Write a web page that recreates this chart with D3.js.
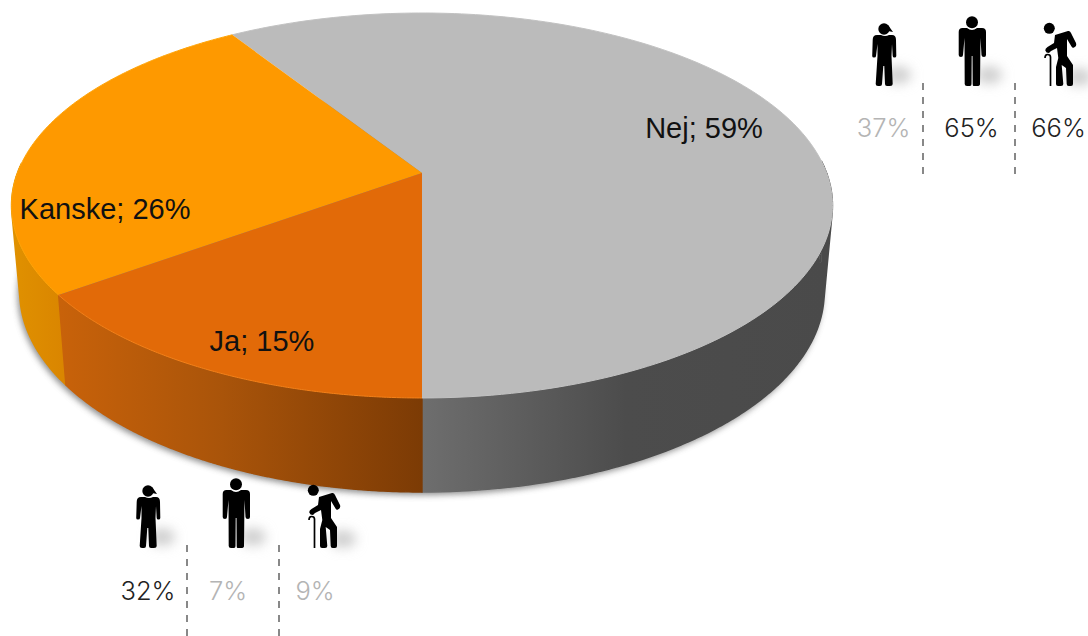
<!DOCTYPE html>
<html><head><meta charset="utf-8">
<script src="https://cdn.jsdelivr.net/npm/d3@7"></script>
<style>html,body{margin:0;padding:0;background:#fff}svg{display:block}</style></head>
<body><svg id="c" width="1088" height="636"></svg>
<script>
const categories=["Nej","Kanske","Ja"];
const values=[59,26,15];
const iconKinds=["child","man","elder"];
const nejShares=[37,65,66];
const nejHighlighted=[false,true,true];
const jaShares=[32,7,9];
const jaHighlighted=[true,false,false];

const svg=d3.select("#c"), defs=svg.append("defs");
const FONT="'Liberation Sans',Arial,sans-serif", LIGHT="Inter,'Liberation Sans',sans-serif";
const cx=422, cy=173, R=404.6, persp=-0.1688, yA=157.8;
const project=(t,r=1)=>{const u=r*Math.sin(t),v=r*Math.cos(t),w=1+persp*v;return [cx+R*u/w,(yA*v+cy)/w];};
const lower=p=>[cx+(p[0]-cx)*0.98,p[1]*1.039+78.5];
const line=d3.line();
const arcs=d3.pie().sort(null).value(d=>d)(values);
const steps=d3.range(0,181);
const angles=(a,b)=>steps.map(i=>a+(b-a)*i/180);
const sample=(a,b,f=p=>p)=>angles(a,b).map(t=>f(project(t)));

function grad(id,stops,x1,x2){
  const g=defs.append("linearGradient").attr("id",id).attr("gradientUnits","userSpaceOnUse")
    .attr("x1",x1).attr("x2",x2).attr("y1",0).attr("y2",0);
  stops.forEach(s=>g.append("stop").attr("offset",s[0]).attr("stop-color",s[1]));
}
grad("gNej",[[0,"#6e6e6e"],[0.5,"#4c4c4c"],[1,"#4a4a4a"]],422,830);
grad("gKanske",[[0,"#e09100"],[1,"#d98400"]],12,70);
grad("gJa",[[0,"#c8620a"],[0.45,"#a9540a"],[1,"#7c3b05"]],60,422);
const blur=(id,s)=>defs.append("filter").attr("id",id).attr("x","-100%").attr("y","-100%").attr("width","300%").attr("height","300%")
  .append("feGaussianBlur").attr("stdDeviation",s);
blur("b1",3); blur("b2",6);

// soft shadow below the body
svg.append("path").attr("d",line(sample(0,2*Math.PI,lower))+"Z")
  .attr("transform","translate(-2,3)").attr("fill","#666").attr("opacity",0.75).attr("filter","url(#b1)");

// sides: a band between the upper rim and the lower rim, front half only
const sideFill={Nej:"url(#gNej)",Kanske:"url(#gKanske)",Ja:"url(#gJa)"};
arcs.forEach((a,i)=>{
  const th=angles(a.startAngle,a.endAngle), top=th.map(t=>project(t)), bot=top.map(lower);
  const d=d3.range(top.length-1).filter(k=>Math.cos(th[k])>-0.05)
    .map(k=>line([top[k],top[k+1],bot[k+1],bot[k]])+"Z").join("");
  svg.append("path").attr("d",d).attr("fill",sideFill[categories[i]]).attr("stroke",sideFill[categories[i]]).attr("stroke-width",1.4);
});
// top faces
const topFill={Nej:"#bbbbbb",Kanske:"#fe9900",Ja:"#e26a08"};
const rim={Nej:"#c2c2c2",Kanske:"#ffa60a",Ja:"#f3811a"};
[0,1,2].forEach(i=>{
  const a=arcs[i], pts=sample(a.startAngle,a.endAngle);
  svg.append("path").attr("d",line([[cx,cy],...pts])+"Z").attr("fill",topFill[categories[i]]);
  svg.append("path").attr("d",line(pts)).attr("fill","none").attr("stroke",rim[categories[i]]).attr("stroke-width",1);
});
// labels
const labelAt=[[704,138],[105,219],[262,351]];
categories.forEach((c,i)=>svg.append("text").attr("x",labelAt[i][0]).attr("y",labelAt[i][1])
  .attr("text-anchor","middle").attr("font-family",FONT).attr("font-size",29).attr("fill","#111")
  .text(`${c}; ${values[i]}%`));

// icons, origin = feet baseline
const iconShape={
 child:{x:884,shadow:[14,-11],head:[0,-57,5.7],
  d:"M4,-61 L9,-54 L4,-55 Z M-7,-51 L-3,-51 Q1,-49 5,-51 L8,-51 Q12,-51 12,-46 L12.3,-30 Q12.3,-28.5 10.5,-28.5 Q8.7,-28.5 8.7,-30 L8,-42 L7.5,-30 L8.7,-2 Q8.7,0 6,0 L3,0 Q1,0 1,-2 L0.3,-20 L-0.7,-20 L-2,-2 Q-2,0 -4,0 L-6,0 Q-8.3,0 -8.3,-2 L-6.5,-30 L-6.5,-42 L-8,-30 Q-8,-28.5 -10,-28.5 Q-11.8,-28.5 -11.8,-30 L-11.3,-46 Q-11.3,-51 -7,-51 Z"},
 man:{x:972,shadow:[17,-11],head:[0,-63.7,6],
  d:"M-9.5,-58 L-5,-58 Q0,-54 5,-58 L10,-58 Q14,-58 14,-54 L14,-31 Q14,-29 12,-29 Q9.5,-29 9.5,-31 L8.5,-48 L8,-2 Q8,0 5,0 L1.5,0 Q0.7,0 0.7,-2 L0.5,-30 L-0.3,-30 L-0.5,-2 Q-0.5,0 -2,0 L-5,0 Q-7.3,0 -7.3,-2 L-7.5,-48 L-9,-31 Q-9,-29 -11,-29 Q-13.3,-29 -13.3,-31 L-13.3,-54 Q-13.3,-58 -9.5,-58 Z"},
 elder:{x:1060,shadow:[19,-9],head:[-10.7,-57.7,5.5],
  d:"M-5,-51 L8,-55 Q10,-55.5 11,-53 L16,-43 Q17,-40 14,-38.5 Q12.5,-37.5 11.5,-39.5 L7,-47 L7,-30 L13,-21 L13,-2 Q13,0 11,0 L8.7,0 Q6.7,0 6.7,-2 L6,-18 L1.7,-21 L3.3,-2 Q3.3,0 1,0 L-2,0 Q-4,0 -4,-2 L-4,-19 L-1.7,-28 L-3,-38 L-9,-35 L-11,-33 Q-14,-33 -14.7,-35.5 Q-15,-37.5 -12.5,-39 L-6,-43 Z"}
};
const caneD="M-9.5,0 L-9.5,-29 Q-9.5,-31.5 -12.5,-31.5 Q-15,-31.5 -15,-28";
function group(shares,hl,dx,dy,lineXs,textXs,textY){
  iconKinds.forEach((k,i)=>{
    const s=iconShape[k], g=svg.append("g").attr("transform",`translate(${s.x+dx},${86+dy})`);
    g.append("ellipse").attr("cx",s.shadow[0]).attr("cy",s.shadow[1]).attr("rx",13).attr("ry",9)
      .attr("fill","#cfcfcf").attr("filter","url(#b2)");
    g.append("circle").attr("cx",s.head[0]).attr("cy",s.head[1]).attr("r",s.head[2]).attr("fill","#000");
    g.append("path").attr("d",s.d).attr("fill","#000");
    if(k==="elder") g.append("path").attr("d",caneD).attr("fill","none").attr("stroke","#000").attr("stroke-width",1.7);
    svg.append("text").attr("x",textXs[i]).attr("y",textY).attr("text-anchor","middle").attr("font-family",LIGHT).attr("font-weight",300)
      .attr("font-size",25.5).attr("fill",hl[i]?"#222":"#b4b4b4").text(shares[i]+"%");
  });
  lineXs.forEach(x=>svg.append("line").attr("x1",x).attr("x2",x).attr("y1",83+dy).attr("y2",174+dy)
    .attr("stroke","#888").attr("stroke-width",2).attr("stroke-dasharray","7 7"));
}
group(nejShares,nejHighlighted,0,0,[923,1015],[883.5,971.5,1058.5],137);
group(jaShares,jaHighlighted,-736,462,[187,279],[148,228,315],600);
</script></body></html>
